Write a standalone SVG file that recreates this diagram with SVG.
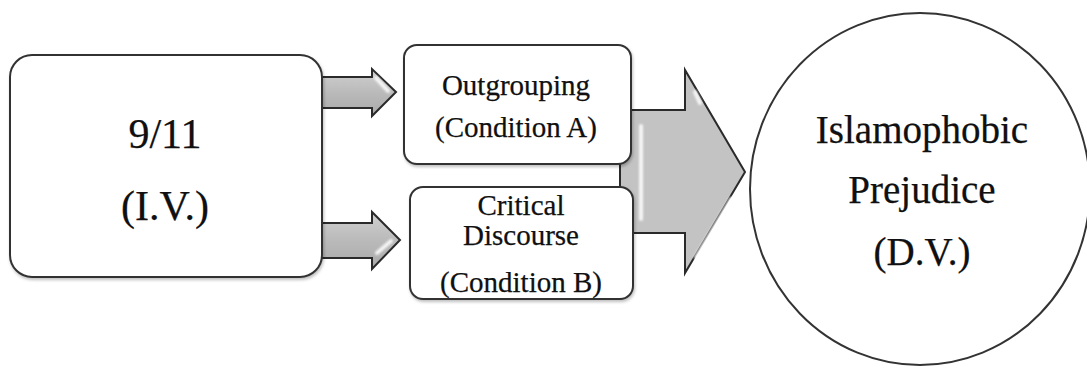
<svg xmlns="http://www.w3.org/2000/svg" width="1087" height="368" viewBox="0 0 1087 368">
  <style>
    .box { fill: #ffffff; stroke: #333333; stroke-width: 2; }
    .arrow { stroke: #2a2a2a; stroke-width: 2; stroke-linejoin: miter; }
    .hl { fill: none; stroke: #ffffff; stroke-width: 4; stroke-linecap: round; opacity: 0.85; }
    .t { font-family: "Liberation Serif", "Times New Roman", serif; fill: #101010; text-anchor: middle; stroke: #101010; stroke-width: 0.25; }
  </style>
  <defs>
    <linearGradient id="ag" x1="0" y1="0" x2="0" y2="1">
      <stop offset="0" stop-color="#d0d0d0"/>
      <stop offset="0.5" stop-color="#bababa"/>
      <stop offset="1" stop-color="#a9a9a9"/>
    </linearGradient>
    <filter id="sh" x="-5%" y="-5%" width="110%" height="115%">
      <feDropShadow dx="1" dy="2" stdDeviation="1.5" flood-color="#000" flood-opacity="0.25"/>
    </filter>
    <filter id="soft" filterUnits="userSpaceOnUse" x="0" y="0" width="1087" height="368">
      <feGaussianBlur stdDeviation="0.8"/>
    </filter>
  </defs>

  <g id="connectors">
    <g id="arrow-iv-a">
      <polygon class="arrow" fill="url(#ag)" points="316,77 372,77 372,69 396,92 372,116 372,108 316,108"/>
      <polyline class="hl" stroke-width="2" filter="url(#soft)" points="376,78 388,91"/>
    </g>
    <g id="arrow-iv-b">
      <polygon class="arrow" fill="url(#ag)" points="316,223 372,223 372,212 400,240 372,269 372,258 316,258"/>
      <polyline class="hl" stroke-width="2" filter="url(#soft)" points="377,253 391,241"/>
    </g>
    <g id="arrow-conditions-dv">
      <polygon class="arrow" fill="#c3c3c3" points="620,110 685,110 685,70 745,172 685,273 685,233 620,233"/>
      <polyline class="hl" filter="url(#soft)" points="641,126 641,219"/>
      <polyline class="hl" filter="url(#soft)" points="696,257 731,199"/>
      <polyline class="hl" stroke-width="3" filter="url(#soft)" points="695,92 700,103"/>
    </g>
  </g>

  <g id="node-iv">
    <rect class="box" filter="url(#sh)" x="10" y="55" width="312" height="222" rx="22" ry="22"/>
    <text class="t" x="165" y="148" font-size="42">9/11</text>
    <text class="t" x="165" y="220" font-size="42">(I.V.)</text>
  </g>

  <g id="node-condition-a">
    <rect class="box" filter="url(#sh)" x="404" y="45" width="227" height="119" rx="13" ry="13"/>
    <text class="t" x="516" y="95" font-size="29">Outgrouping</text>
    <text class="t" x="516" y="137" font-size="29">(Condition A)</text>
  </g>

  <g id="node-condition-b">
    <rect class="box" filter="url(#sh)" x="410" y="187" width="223" height="112" rx="13" ry="13"/>
    <text class="t" x="521" y="215" font-size="29">Critical</text>
    <text class="t" x="521" y="245" font-size="29">Discourse</text>
    <text class="t" x="521" y="292" font-size="29">(Condition B)</text>
  </g>

  <g id="node-dv">
    <ellipse class="box" cx="920" cy="189" rx="170" ry="176"/>
    <text class="t" x="922" y="143" font-size="39">Islamophobic</text>
    <text class="t" x="922" y="203" font-size="39">Prejudice</text>
    <text class="t" x="922" y="265" font-size="39">(D.V.)</text>
  </g>
</svg>
